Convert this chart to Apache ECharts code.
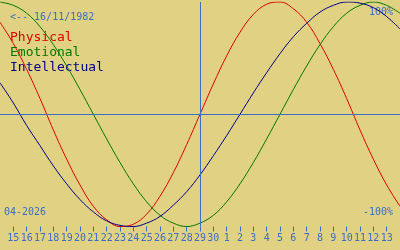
<!DOCTYPE html>
<html>
<head>
<meta charset="utf-8">
<script src="https://cdn.jsdelivr.net/npm/echarts@6/dist/echarts.min.js"></script>
<style>
html,body{margin:0;padding:0;background:#e0d282;}
#c{width:400px;height:250px;}
</style>
</head>
<body>
<div id="c"></div>
<script>
// Day-of-month labels along the x axis (first and last are the window edges)
const dayLabels = ['14','15','16','17','18','19','20','21','22','23','24','25','26','27','28','29','30',
                   '1','2','3','4','5','6','7','8','9','10','11','12','13','14'];
// Biorhythm values in percent, one per day
const physical     = [82, 63, 40, 14, -14, -40, -63, -82, -94, -100, -98, -89, -73, -52, -27, 0,
                      27, 52, 73, 89, 98, 100, 94, 82, 63, 40, 14, -14, -40, -63, -82];
const emotional    = [100, 97, 90, 78, 62, 43, 22, 0, -22, -43, -62, -78, -90, -97, -100, -97,
                      -90, -78, -62, -43, -22, 0, 22, 43, 62, 78, 90, 97, 100, 97, 90];
const intellectual = [28, 10, -10, -28, -46, -62, -76, -87, -95, -99, -100, -97, -91, -81, -69, -54,
                      -37, -19, 0, 19, 37, 54, 69, 81, 91, 97, 100, 99, 95, 87, 76];
const todayLabel = '29';
const birthText = '<-- 16/11/1982';
const monthText = '04-2026';
const topText = '100%';
const bottomText = '-100%';
const legendNames = ['Physical', 'Emotional', 'Intellectual'];

const BLUE = '#3a6ec6';
const COLORS = ['#dd0000', '#007800', '#000088'];
const MONO = '"DejaVu Sans Mono", monospace';

const chart = echarts.init(document.getElementById('c'), null, {renderer: 'canvas'});
const lastIdx = dayLabels.length - 1;
const inner = (i) => i > 0 && i < lastIdx;

const mk = (name, data, color, extra) => Object.assign({
  name, type: 'line', data, showSymbol: false, smooth: 0.4,
  lineStyle: {color, width: 1}, itemStyle: {color}, silent: true, z: 3
}, extra || {});

chart.setOption({
  backgroundColor: '#e0d282',
  animation: false,
  grid: {left: 0, right: 0, top: 2, bottom: 23.5},
  xAxis: {
    type: 'category', data: dayLabels, boundaryGap: false,
    axisLine: {show: false, onZero: false},
    axisTick: {show: true, length: 5, interval: inner, lineStyle: {color: BLUE, width: 1}},
    axisLabel: {interval: inner, color: BLUE, fontFamily: MONO, fontSize: 10, margin: 7},
    splitLine: {show: false}
  },
  yAxis: {
    type: 'value', min: -100, max: 100, show: false, splitLine: {show: false}
  },
  series: [
    mk(legendNames[0], physical, COLORS[0], {
      markLine: {
        silent: true, symbol: 'none', label: {show: false},
        lineStyle: {color: BLUE, width: 1, type: 'solid'},
        data: [{xAxis: todayLabel}, {yAxis: 0}]
      }
    }),
    mk(legendNames[1], emotional, COLORS[1]),
    mk(legendNames[2], intellectual, COLORS[2])
  ],
  graphic: [
    {type: 'text', x: 10, y: 17, style: {text: birthText, fill: BLUE, font: '10px ' + MONO, verticalAlign: 'middle'}},
    {type: 'text', x: 10, y: 38, style: {text: legendNames[0], fill: COLORS[0], font: '13px ' + MONO, verticalAlign: 'middle'}},
    {type: 'text', x: 10, y: 53, style: {text: legendNames[1], fill: COLORS[1], font: '13px ' + MONO, verticalAlign: 'middle'}},
    {type: 'text', x: 10, y: 68, style: {text: legendNames[2], fill: COLORS[2], font: '13px ' + MONO, verticalAlign: 'middle'}},
    {type: 'text', x: 4, y: 212, style: {text: monthText, fill: BLUE, font: '10px ' + MONO, verticalAlign: 'middle'}},
    {type: 'text', x: 393, y: 12, style: {text: topText, fill: BLUE, font: '10px ' + MONO, verticalAlign: 'middle', align: 'right'}},
    {type: 'text', x: 393, y: 212, style: {text: bottomText, fill: BLUE, font: '10px ' + MONO, verticalAlign: 'middle', align: 'right'}}
  ]
});
</script>
</body>
</html>
